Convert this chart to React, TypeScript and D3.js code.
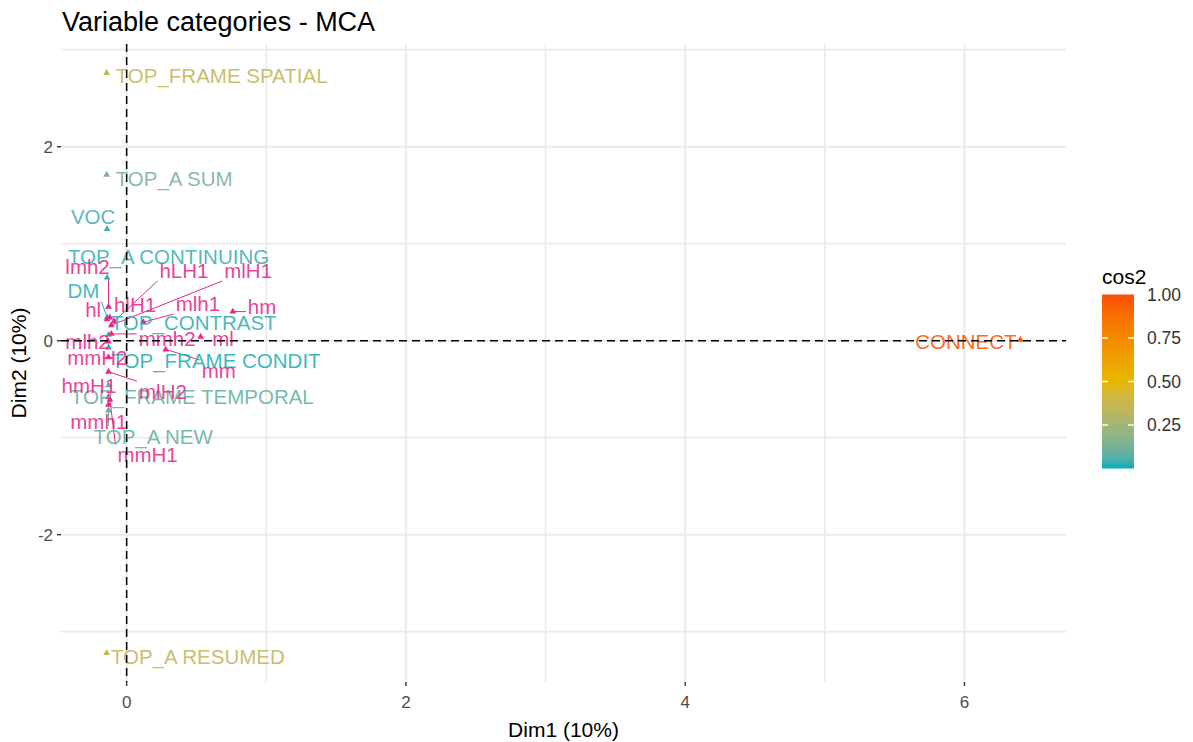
import React, { useEffect, useRef } from "react";
import * as d3 from "d3";

// ---- data ----
const categories = [
  "TOP_FRAME SPATIAL", "TOP_A SUM", "VOC", "TOP_A CONTINUING", "DM",
  "TOP_CONTRAST", "TOP_FRAME CONDIT", "TOP_FRAME TEMPORAL", "TOP_A NEW",
  "TOP_A RESUMED", "CONNECT",
  "lmh2", "hl", "hlH1", "hLH1", "mlH1", "mlh1", "hm", "ml", "mmh2", "mlh2",
  "mm", "mmH2", "mlH2", "hmH1", "mmh1", "mmH1",
];
const dim1 = [
  -0.143, -0.143, -0.14, -0.14, -0.14,
  -0.13, -0.13, -0.13, -0.13,
  -0.143, 6.40,
  -0.13, -0.14, -0.12, -0.09, -0.11, 0.12, 0.76, 0.53, -0.11, -0.13,
  0.28, -0.13, -0.13, -0.13, -0.13, -0.12,
];
const dim2 = [
  2.76, 1.71, 1.15, 0.65, 0.24,
  0.06, -0.07, -0.46, -0.72,
  -3.22, 0.01,
  0.35, 0.22, 0.24, 0.20, 0.16, 0.19, 0.30, 0.04, 0.07, -0.01,
  -0.09, -0.17, -0.32, -0.58, -0.66, -0.61,
];
// cos2 of active categories; null = supplementary (drawn pink)
const cos2: (number | null)[] = [
  0.34, 0.13, 0.04, 0.03, 0.02,
  0.02, 0.01, 0.09, 0.09,
  0.34, 0.97,
  null, null, null, null, null, null, null, null, null, null,
  null, null, null, null, null, null,
];
// repelled label anchors, in data units
const labelDim1 = [
  0.68, 0.34, -0.24, 0.30, -0.31,
  0.48, 0.64, 0.47, 0.19,
  0.51, 6.01,
  -0.28, -0.24, 0.06, 0.41, 0.87, 0.51, 0.97, 0.69, 0.29, -0.28,
  0.66, -0.21, 0.26, -0.27, -0.20, 0.15,
];
const labelDim2 = [
  2.73, 1.67, 1.28, 0.86, 0.51,
  0.18, -0.21, -0.58, -0.99,
  -3.26, -0.01,
  0.76, 0.32, 0.37, 0.72, 0.72, 0.38, 0.35, 0.02, 0.02, -0.01,
  -0.31, -0.18, -0.53, -0.47, -0.84, -1.18,
];
const xTicks = [0, 2, 4, 6];
const xMinor = [1, 3, 5];
const yTicks = [-2, 0, 2];
const yMinor = [-3, -1, 1, 3];
const legendTicks = [0.25, 0.5, 0.75, 1.0];

const W = 1193;
const H = 742;
const FONT = "'Liberation Sans', Arial, Helvetica, sans-serif";
const SUP_COLOR = "#e7298a";

export default function App() {
  const ref = useRef<SVGSVGElement>(null);

  useEffect(() => {
    const svg = d3.select(ref.current);
    svg.selectAll("*").remove();

    const left = 61, right = 1066, top = 44, bottom = 682;
    const [x0, x1] = d3.extent(dim1) as [number, number];
    const [y0, y1] = d3.extent(dim2) as [number, number];
    const px = (x1 - x0) * 0.05, py = (y1 - y0) * 0.05;
    const x = d3.scaleLinear().domain([x0 - px, x1 + px]).range([left, right]);
    const y = d3.scaleLinear().domain([y0 - py, y1 + py]).range([bottom, top]);

    const color = d3
      .scaleLinear<string>()
      .domain([0, 0.5, 1])
      .range(["#00AFBB", "#E7B800", "#FC4E07"])
      .interpolate(d3.interpolateLab);

    svg.append("rect").attr("width", W).attr("height", H).attr("fill", "#fff");

    // grid
    const g = svg.append("g");
    const gridCol = "#ebebeb";
    [...yMinor, ...yTicks].forEach((v) =>
      g.append("line").attr("x1", left).attr("x2", right).attr("y1", y(v)).attr("y2", y(v))
        .attr("stroke", gridCol).attr("stroke-width", yTicks.includes(v) ? 2 : 1.7)
    );
    [...xMinor, ...xTicks].forEach((v) =>
      g.append("line").attr("y1", top).attr("y2", bottom).attr("x1", x(v)).attr("x2", x(v))
        .attr("stroke", gridCol).attr("stroke-width", xTicks.includes(v) ? 2 : 1.7)
    );

    // axes ticks + labels
    yTicks.forEach((v) => {
      svg.append("line").attr("x1", left - 4).attr("x2", left).attr("y1", y(v)).attr("y2", y(v))
        .attr("stroke", "#333").attr("stroke-width", 1.4);
      svg.append("text").attr("x", left - 8).attr("y", y(v)).attr("dy", "0.36em")
        .attr("text-anchor", "end").attr("font-size", 17).attr("fill", "#4d4d4d")
        .attr("font-family", FONT).text(String(v));
    });
    xTicks.forEach((v) => {
      svg.append("line").attr("x1", x(v)).attr("x2", x(v)).attr("y1", bottom).attr("y2", bottom + 4)
        .attr("stroke", "#333").attr("stroke-width", 1.4);
      svg.append("text").attr("x", x(v)).attr("y", bottom + 26)
        .attr("text-anchor", "middle").attr("font-size", 17).attr("fill", "#4d4d4d")
        .attr("font-family", FONT).text(String(v));
    });

    svg.append("text").attr("x", (left + right) / 2).attr("y", 737).attr("text-anchor", "middle")
      .attr("font-size", 21).attr("font-family", FONT).attr("fill", "#000").text("Dim1 (10%)");
    svg.append("text").attr("transform", `translate(26,${(top + bottom) / 2}) rotate(-90)`)
      .attr("text-anchor", "middle").attr("font-size", 21).attr("font-family", FONT)
      .attr("fill", "#000").text("Dim2 (10%)");

    svg.append("text").attr("x", 62).attr("y", 31).attr("font-size", 27).attr("font-family", FONT)
      .attr("fill", "#000").text("Variable categories - MCA");

    const colOf = (i: number) => (cos2[i] == null ? SUP_COLOR : color(cos2[i] as number));

    const segG = svg.append("g");
    const ptG = svg.append("g");
    const txtG = svg.append("g");

    categories.forEach((name, i) => {
      const c = colOf(i);
      const t = txtG.append("text")
        .attr("x", x(labelDim1[i])).attr("y", y(labelDim2[i])).attr("dy", "0.35em")
        .attr("text-anchor", "middle").attr("font-size", 20.5).attr("font-family", FONT)
        .attr("fill", c).attr("fill-opacity", 0.9).text(name);
      const node = t.node() as SVGTextElement;
      const bb = node.getBBox();
      const pxp = x(dim1[i]), pyp = y(dim2[i]);
      const pad = 2;
      const cx = Math.max(bb.x - pad, Math.min(pxp, bb.x + bb.width + pad));
      const cy = Math.max(bb.y + 3 - pad, Math.min(pyp, bb.y + bb.height - 3 + pad));
      const dist = Math.hypot(cx - pxp, cy - pyp);
      if (dist > 11) {
        segG.append("line").attr("x1", pxp).attr("y1", pyp).attr("x2", cx).attr("y2", cy)
          .attr("stroke", c).attr("stroke-width", 1);
      }
      ptG.append("path").attr("d", d3.symbol(d3.symbolTriangle, 20)())
        .attr("transform", `translate(${pxp},${pyp})`).attr("fill", c);
    });

    // reference dashed lines
    svg.append("line").attr("x1", left).attr("x2", right).attr("y1", y(0)).attr("y2", y(0))
      .attr("stroke", "#000").attr("stroke-width", 1.5).attr("stroke-dasharray", "8,5");
    svg.append("line").attr("y1", top).attr("y2", bottom).attr("x1", x(0)).attr("x2", x(0))
      .attr("stroke", "#000").attr("stroke-width", 1.5).attr("stroke-dasharray", "8,5");

    // legend
    const lx = 1102, lw = 32, lt = 294.5, lb = 468.5;
    const ly = d3.scaleLinear().domain([0, 1]).range([lb, lt]);
    const defs = svg.append("defs");
    const grad = defs.append("linearGradient").attr("id", "cosgrad")
      .attr("x1", 0).attr("y1", 1).attr("x2", 0).attr("y2", 0);
    d3.range(0, 1.0001, 0.05).forEach((v) =>
      grad.append("stop").attr("offset", v).attr("stop-color", color(v))
    );
    svg.append("rect").attr("x", lx).attr("y", lt).attr("width", lw).attr("height", lb - lt)
      .attr("fill", "url(#cosgrad)");
    legendTicks.forEach((v) => {
      if (v < 1) {
        svg.append("line").attr("x1", lx).attr("x2", lx + 6).attr("y1", ly(v)).attr("y2", ly(v))
          .attr("stroke", "#fff").attr("stroke-width", 1.4);
        svg.append("line").attr("x1", lx + lw - 6).attr("x2", lx + lw).attr("y1", ly(v)).attr("y2", ly(v))
          .attr("stroke", "#fff").attr("stroke-width", 1.4);
      }
      svg.append("text").attr("x", lx + lw + 13).attr("y", ly(v)).attr("dy", "0.36em")
        .attr("font-size", 17.5).attr("font-family", FONT).attr("fill", "#333")
        .text(v.toFixed(2));
    });
    svg.append("text").attr("x", lx).attr("y", 284).attr("font-size", 21).attr("font-family", FONT)
      .attr("fill", "#000").text("cos2");
  }, []);

  return (
    <svg
      ref={ref}
      width={W}
      height={H}
      style={{ position: "absolute", left: 0, top: 0, display: "block" }}
    />
  );
}
